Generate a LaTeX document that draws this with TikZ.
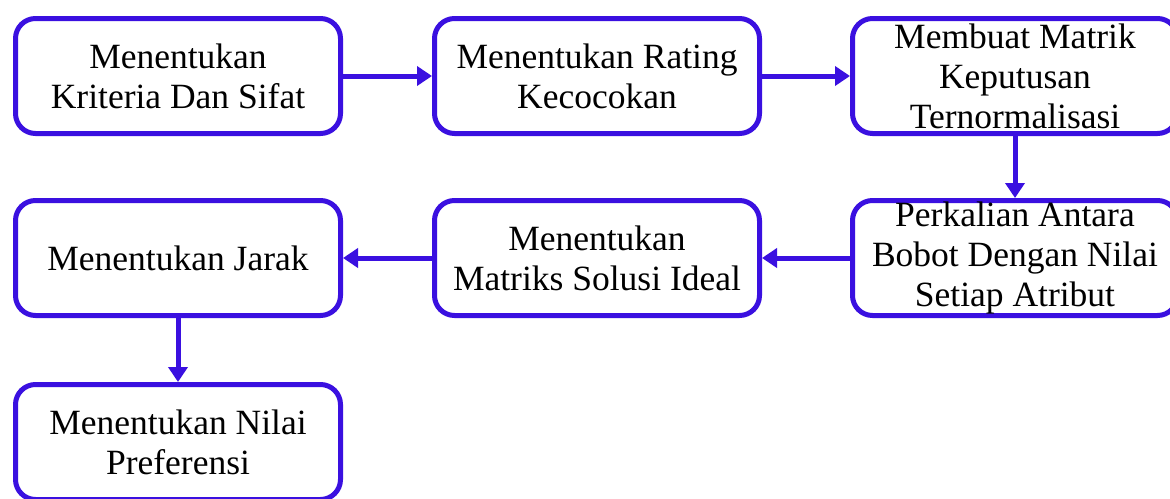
\documentclass[tikz,border=0pt]{standalone}
\usepackage{fontspec}
\setmainfont{Liberation Serif}
\usetikzlibrary{arrows.meta}
\definecolor{flowblue}{RGB}{58,16,224}
\tikzset{
  stepbox/.style={draw=flowblue, line width=5pt, rounded corners=20pt,
    minimum width=325pt, minimum height=115pt, align=center, inner sep=0pt,
    font=\fontsize{35.5}{40}\selectfont, fill=white},
  flow/.style={draw=flowblue, line width=5pt,
    -{Triangle[length=15pt,width=19pt]}}
}
\begin{document}
\begin{tikzpicture}[x=1pt,y=-1pt]
  \useasboundingbox (0,0) rectangle (1170,498);
  \node[stepbox] (kriteria) at (178,76) {Menentukan\\Kriteria Dan Sifat};
  \node[stepbox] (rating) at (597,76) {Menentukan Rating\\Kecocokan};
  \node[stepbox] (matrik) at (1015,76) {Membuat Matrik\\Keputusan\\Ternormalisasi};
  \node[stepbox] (perkalian) at (1015,258) {Perkalian Antara\\Bobot Dengan Nilai\\Setiap Atribut};
  \node[stepbox] (solusi) at (597,258) {Menentukan\\Matriks Solusi Ideal};
  \node[stepbox] (jarak) at (178,258) {Menentukan Jarak};
  \node[stepbox] (preferensi) at (178,442) {Menentukan Nilai\\Preferensi};
  \draw[flow] (kriteria) -- (rating);
  \draw[flow] (rating) -- (matrik);
  \draw[flow] (matrik) -- (perkalian);
  \draw[flow] (perkalian) -- (solusi);
  \draw[flow] (solusi) -- (jarak);
  \draw[flow] (jarak) -- (preferensi);
\end{tikzpicture}
\end{document}
